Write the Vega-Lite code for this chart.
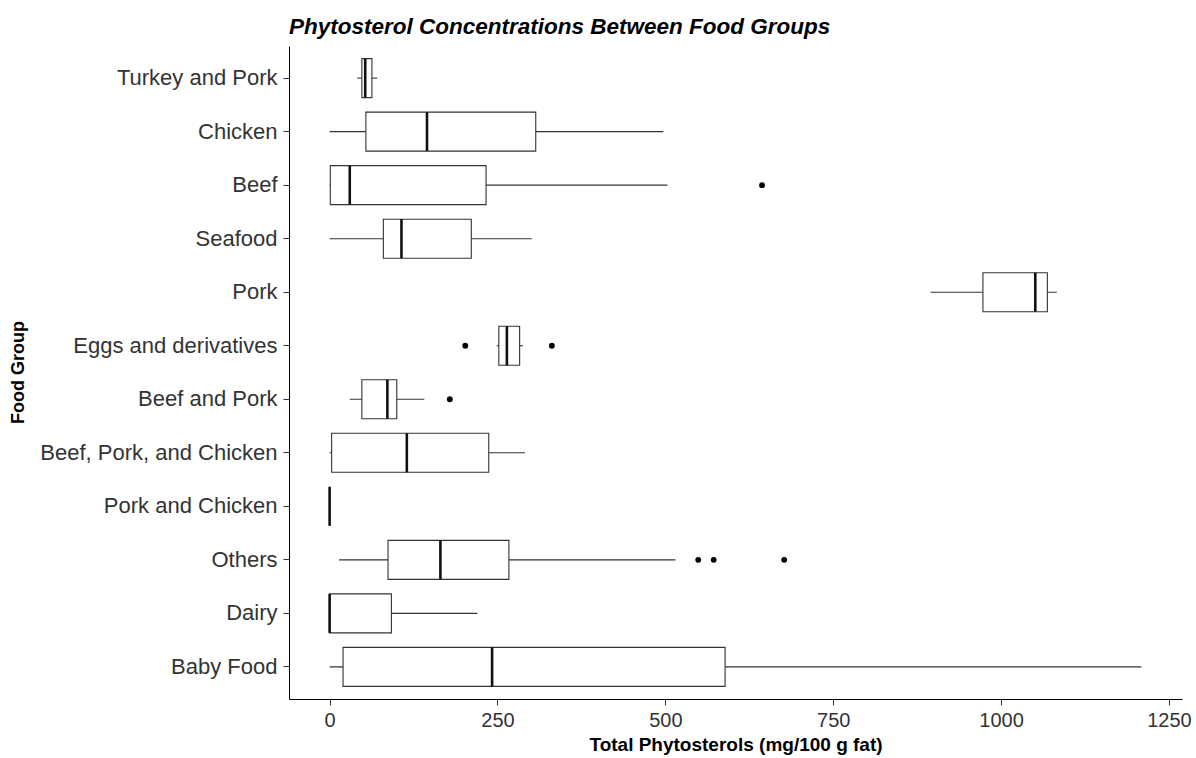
{
  "$schema": "https://vega.github.io/schema/vega-lite/v6.json",
  "autosize": {"type": "none"},
  "padding": {"left": 289, "top": 46, "right": 14, "bottom": 59},
  "width": 893,
  "height": 653,
  "background": "white",
  "title": {
    "text": "Phytosterol Concentrations Between Food Groups",
    "anchor": "start",
    "frame": "group",
    "font": "Liberation Sans",
    "fontSize": 22.5,
    "fontStyle": "italic",
    "fontWeight": "bold",
    "color": "#000000",
    "offset": 8
  },
  "config": {
    "view": {"stroke": null},
    "font": "Liberation Sans",
    "axis": {
      "grid": false,
      "domainColor": "#000000",
      "domainWidth": 1,
      "tickColor": "#333333",
      "tickSize": 6,
      "labelFont": "Liberation Sans",
      "labelColor": "#333333",
      "labelLimit": 300,
      "titleFont": "Liberation Sans",
      "titleFontSize": 19,
      "titleFontWeight": "bold",
      "titleColor": "#000000"
    }
  },
  "datasets": {
    "boxes": [
      {"group": "Turkey and Pork", "lo": 41, "q1": 48, "med": 53, "q3": 63, "hi": 71},
      {"group": "Chicken", "lo": 0, "q1": 54, "med": 145, "q3": 307, "hi": 497},
      {"group": "Beef", "lo": 0, "q1": 1, "med": 30, "q3": 233, "hi": 503},
      {"group": "Seafood", "lo": 0, "q1": 80, "med": 107, "q3": 211, "hi": 301},
      {"group": "Pork", "lo": 895, "q1": 973, "med": 1051, "q3": 1069, "hi": 1083},
      {"group": "Eggs and derivatives", "lo": 249, "q1": 252, "med": 264, "q3": 283, "hi": 288},
      {"group": "Beef and Pork", "lo": 30, "q1": 48, "med": 86, "q3": 100, "hi": 141},
      {"group": "Beef, Pork, and Chicken", "lo": 0, "q1": 3, "med": 115, "q3": 237, "hi": 291},
      {"group": "Pork and Chicken", "lo": 0, "q1": 0, "med": 0, "q3": 0, "hi": 0},
      {"group": "Others", "lo": 14, "q1": 87, "med": 165, "q3": 267, "hi": 515},
      {"group": "Dairy", "lo": 0, "q1": 0, "med": 0, "q3": 92, "hi": 220},
      {"group": "Baby Food", "lo": 0, "q1": 20, "med": 242, "q3": 589, "hi": 1209}
    ],
    "outliers": [
      {"group": "Beef", "value": 644},
      {"group": "Eggs and derivatives", "value": 202},
      {"group": "Eggs and derivatives", "value": 331},
      {"group": "Beef and Pork", "value": 179},
      {"group": "Others", "value": 549},
      {"group": "Others", "value": 572},
      {"group": "Others", "value": 677}
    ]
  },
  "layer": [
    {
      "data": {"name": "boxes"},
      "mark": {"type": "rule", "color": "#333333", "strokeWidth": 1.1},
      "encoding": {
        "y": {"field": "group", "type": "nominal"},
        "x": {"field": "lo", "type": "quantitative"},
        "x2": {"field": "hi"}
      }
    },
    {
      "data": {"name": "boxes"},
      "mark": {"type": "bar", "fill": "white", "stroke": "#333333", "strokeWidth": 1.1},
      "encoding": {
        "y": {"field": "group", "type": "nominal"},
        "x": {"field": "q1", "type": "quantitative"},
        "x2": {"field": "q3"}
      }
    },
    {
      "data": {"name": "boxes"},
      "mark": {"type": "tick", "color": "#111111", "size": 39, "thickness": 2.6, "opacity": 1},
      "encoding": {
        "y": {"field": "group", "type": "nominal"},
        "x": {"field": "med", "type": "quantitative"}
      }
    },
    {
      "data": {"name": "outliers"},
      "mark": {"type": "point", "filled": true, "color": "#000000", "size": 34, "opacity": 1},
      "encoding": {
        "y": {"field": "group", "type": "nominal"},
        "x": {"field": "value", "type": "quantitative"}
      }
    }
  ],
  "encoding": {
    "y": {
      "field": "group",
      "type": "nominal",
      "scale": {
        "domain": ["Turkey and Pork", "Chicken", "Beef", "Seafood", "Pork", "Eggs and derivatives", "Beef and Pork", "Beef, Pork, and Chicken", "Pork and Chicken", "Others", "Dairy", "Baby Food"],
        "paddingInner": 0.271,
        "paddingOuter": 0.2355
      },
      "axis": {"title": "Food Group", "labelFontSize": 22, "labelPadding": 6, "titleX": -262, "titleY": 326, "titleAngle": 270, "titleBaseline": "bottom", "titleAlign": "center", "titleFontSize": 18}
    },
    "x": {
      "field": "lo",
      "type": "quantitative",
      "scale": {"domain": [-60.5, 1269.5], "nice": false, "zero": false},
      "axis": {"title": "Total Phytosterols (mg/100 g fat)", "values": [0, 250, 500, 750, 1000, 1250], "format": "d", "labelFontSize": 20, "labelPadding": 5, "titlePadding": 5}
    }
  }
}
